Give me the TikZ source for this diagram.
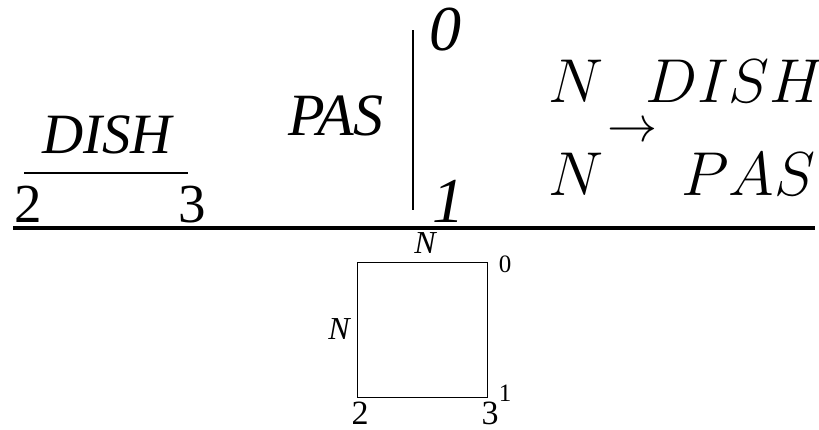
\documentclass[tikz,border=0pt]{standalone}
\usepackage{fix-cm}
\usepackage{fontspec}
\setmainfont{Liberation Serif}
\usepackage{tikz}

\begin{document}
\begin{tikzpicture}[
  x=1pt, y=-1pt,
  txt/.style={inner sep=0pt, anchor=base},
  bigit/.style={txt, font=\fontsize{57}{57}\selectfont\itshape},
  bignum/.style={txt, font=\fontsize{55}{55}\selectfont},
  hugeit/.style={txt, font=\fontsize{64}{64}\selectfont\itshape},
  mathbig/.style={txt, font=\fontsize{62}{62}\selectfont},
  smallit/.style={txt, font=\fontsize{32}{32}\selectfont\itshape},
  smallnum/.style={txt, font=\fontsize{34}{34}\selectfont},
  tinynum/.style={txt, font=\fontsize{25}{25}\selectfont},
  rule/.style={line width=1.5pt},
]
  \useasboundingbox (0,0) rectangle (819,429);

  % left fraction
  \node[bigit] (dish) at (107,153) {DISH};
  \node[bignum] (two) at (28,222) {2};
  \node[bignum] (three) at (192,222) {3};
  \coordinate (fl) at (24,173);
  \coordinate (fr) at (188,173);
  \draw[rule] (fl) -- (fr);

  % bar with 0 and 1
  \node[bigit, font=\fontsize{60}{60}\selectfont\itshape] (pas) at (336,135) {PAS};
  \coordinate (bt) at (413,30);
  \coordinate (bb) at (413,210);
  \draw[rule] (bt) -- (bb);
  \node[hugeit] (zero) at (445,50) {0};
  \node[hugeit] (one) at (448,222) {1};

  % right matrix
  \node[mathbig] (n1) at (576,102) {$N$};
  \node[mathbig] (d1) at (735,102) {$DISH$};
  \node[mathbig] (n2) at (576,195) {$N$};
  \node[mathbig] (p2) at (748,195) {$PAS$};
  \node[inner sep=0pt, font=\fontsize{50}{50}\selectfont] (arr) at (632,132) {$\rightarrow$};

  % main rule
  \coordinate (ml) at (13,228);
  \coordinate (mr) at (815,228);
  \draw[line width=4pt] (ml) -- (mr);

  % square
  \coordinate (sa) at (357,262);
  \coordinate (sb) at (487,397);
  \draw[line width=1pt] (sa) rectangle (sb);
  \node[smallit] (ntop) at (425,253) {N};
  \node[smallit] (nleft) at (339,339) {N};
  \node[tinynum] (s0) at (505,272) {0};
  \node[tinynum] (s1) at (505,401) {1};
  \node[smallnum] (s2) at (360,424) {2};
  \node[smallnum] (s3) at (490,424) {3};
\end{tikzpicture}
\end{document}
